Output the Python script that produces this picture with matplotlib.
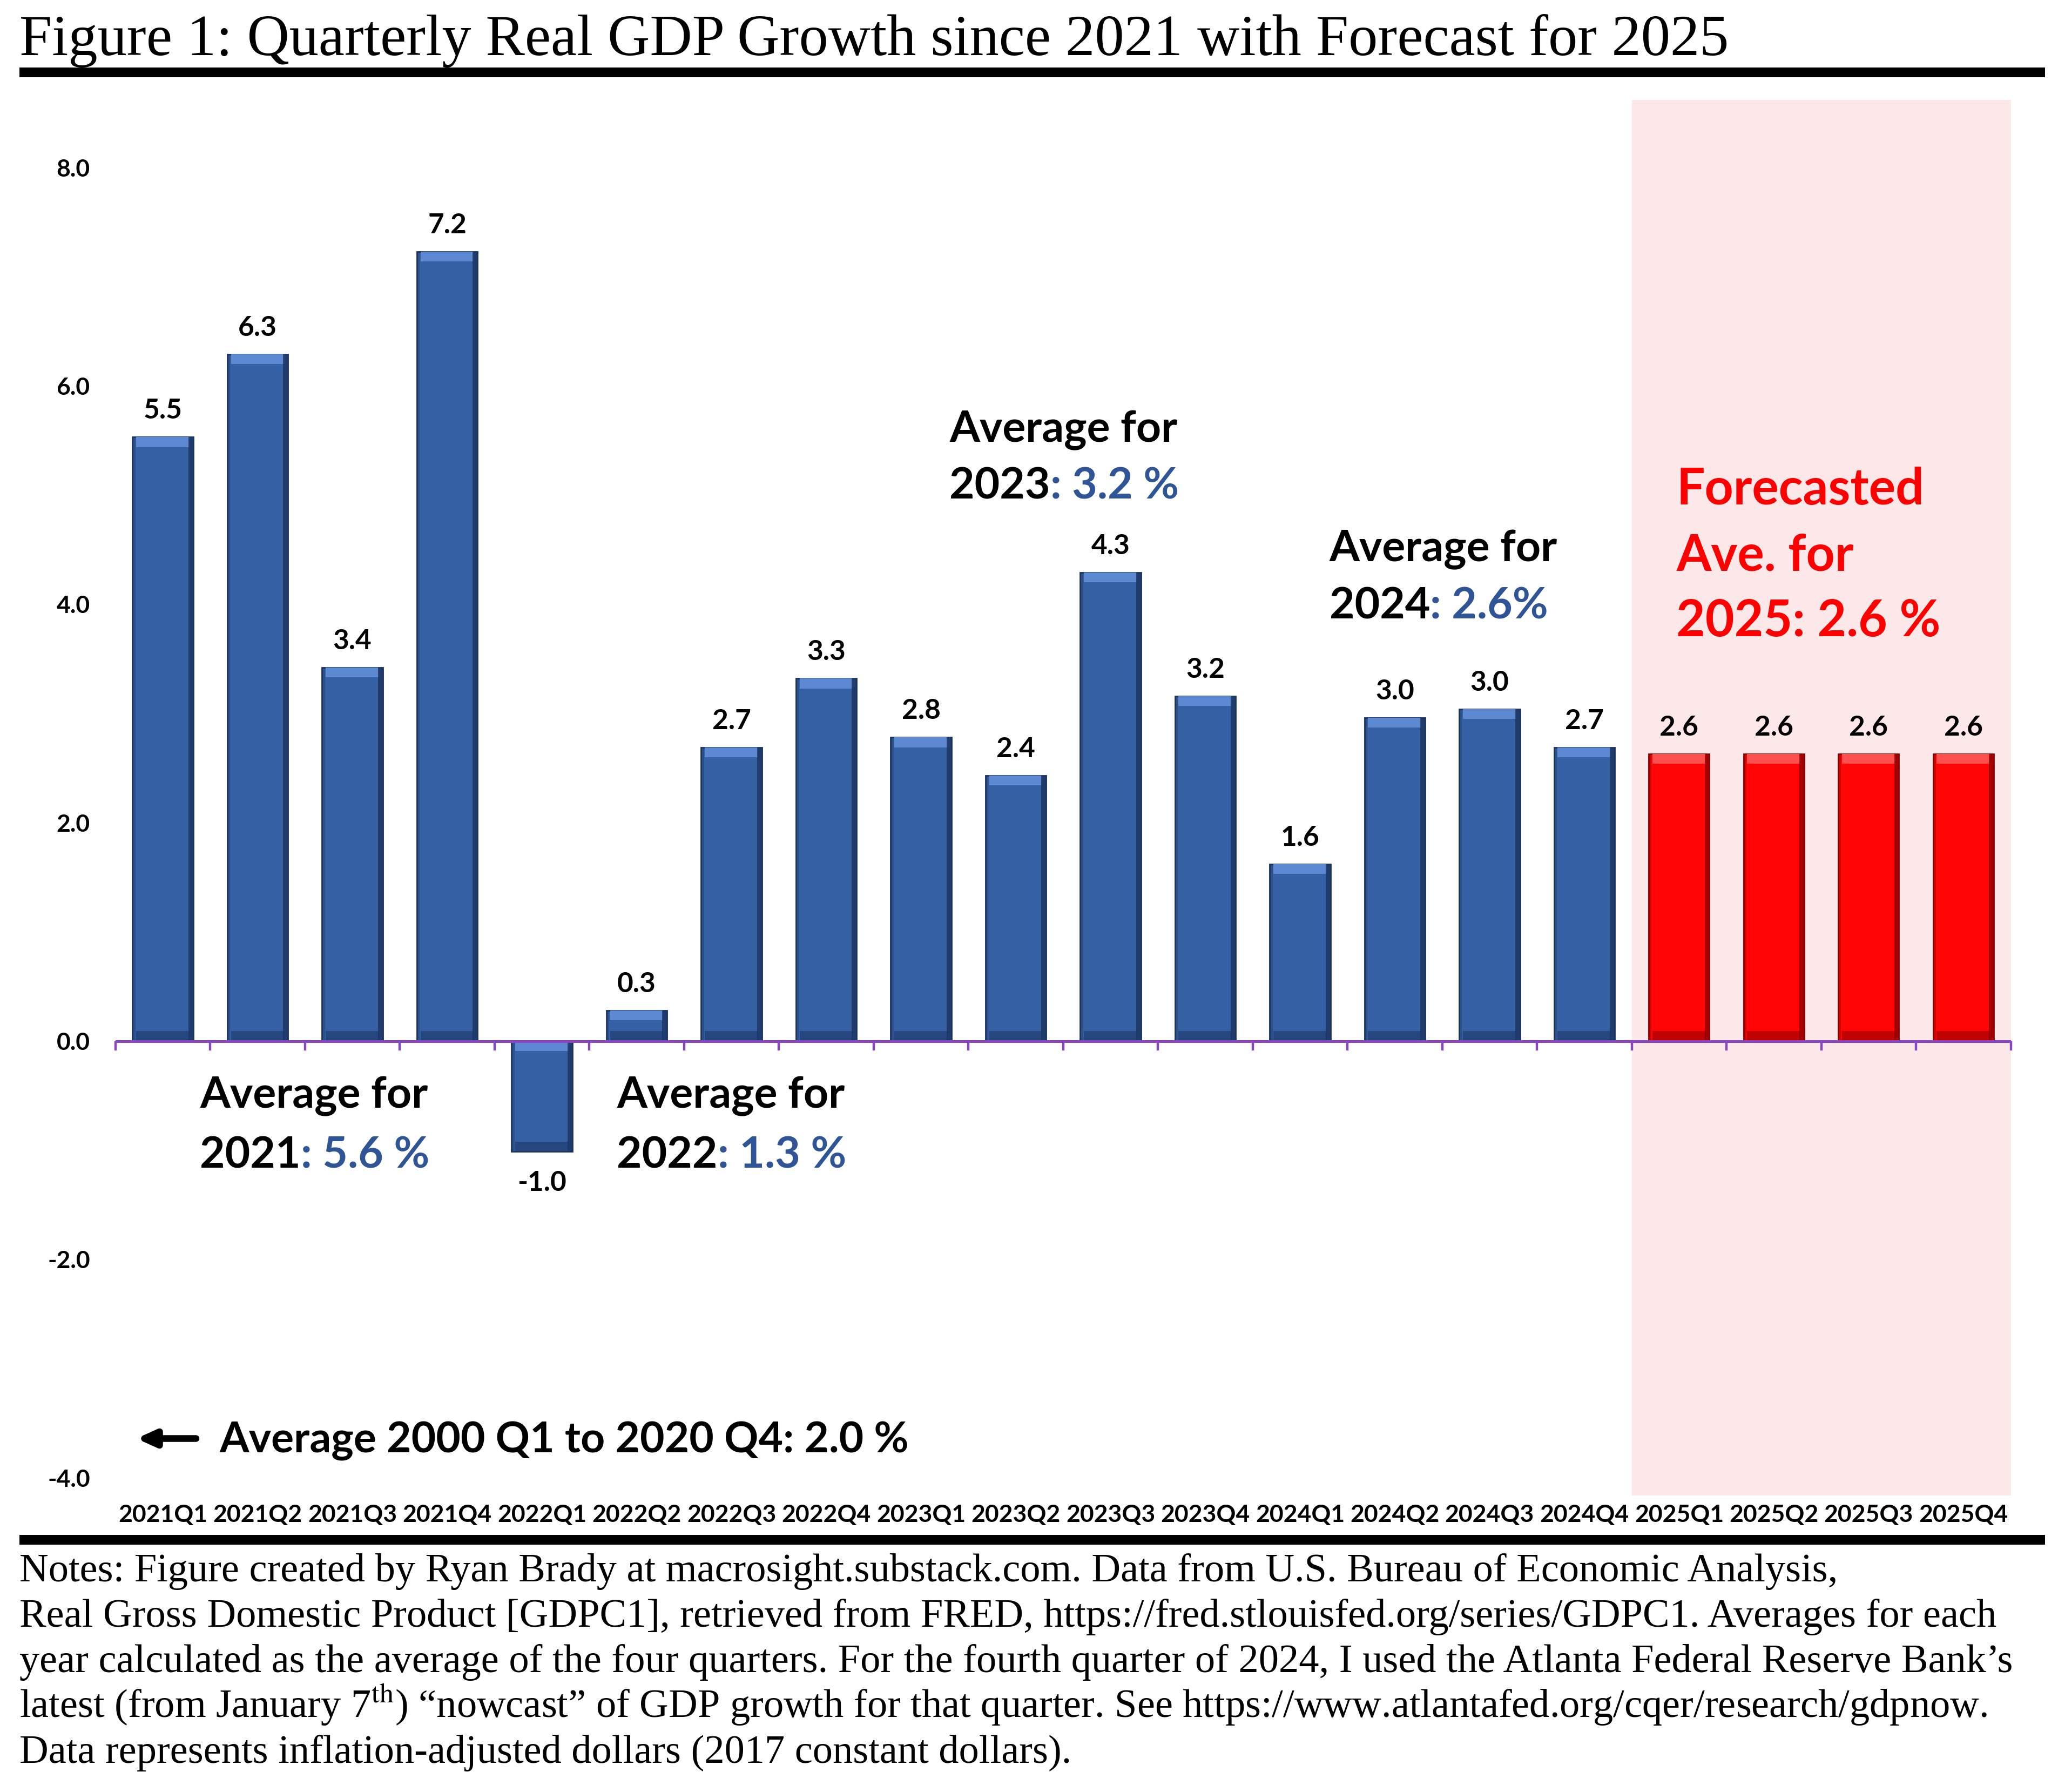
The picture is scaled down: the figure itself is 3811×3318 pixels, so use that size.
import matplotlib.pyplot as plt
from matplotlib.lines import Line2D
import numpy as np

# ---- data ----
quarters = ['2021Q1', '2021Q2', '2021Q3', '2021Q4',
            '2022Q1', '2022Q2', '2022Q3', '2022Q4',
            '2023Q1', '2023Q2', '2023Q3', '2023Q4',
            '2024Q1', '2024Q2', '2024Q3', '2024Q4',
            '2025Q1', '2025Q2', '2025Q3', '2025Q4']
growth = [5.53, 6.29, 3.42, 7.23,
          -1.01, 0.28, 2.69, 3.32,
          2.78, 2.43, 4.29, 3.16,
          1.62, 2.96, 3.04, 2.69,
          2.63, 2.63, 2.63, 2.63]
n_forecast = 4

avg_years = ['2021', '2022', '2023', '2024']
avg_values = [': 5.6 %', ': 1.3 %', ': 3.2 %', ': 2.6%']
forecast_lines = ['Forecasted', 'Ave. for', '2025: 2.6 %']
longrun_text = 'Average 2000 Q1 to 2020 Q4: 2.0 %'
yticks = [-4, -2, 0, 2, 4, 6, 8]

title = 'Figure 1: Quarterly Real GDP Growth since 2021 with Forecast for 2025'
notes = [
    'Notes: Figure created by Ryan Brady at macrosight.substack.com. Data from U.S. Bureau of Economic Analysis,',
    'Real Gross Domestic Product [GDPC1], retrieved from FRED, https://fred.stlouisfed.org/series/GDPC1. Averages for each',
    'year calculated as the average of the four quarters. For the fourth quarter of 2024, I used the Atlanta Federal Reserve Bank\u2019s',
    'latest (from January 7$^{\\rm th}$) \u201cnowcast\u201d of GDP growth for that quarter. See https://www.atlantafed.org/cqer/research/gdpnow.',
    'Data represents inflation-adjusted dollars (2017 constant dollars).',
]

plt.rcParams['font.family'] = ['Lato', 'DejaVu Sans']
plt.rcParams['mathtext.fontset'] = 'stix'

BLUE = '#3560a4'
BLUE_LT = '#5d89d2'
BLUE_DK = '#1b3360'
RED = '#ff0505'
RED_LT = '#ff5050'
RED_DK = '#8c0000'
TXT_BLUE = '#2f5597'
AXIS = '#8a45c4'

# layout grid in the 1568x1365 reference view
W, H = 1568, 1365


def fx(px):
    return px / W


def fy(py):
    return 1 - py / H


fig = plt.figure(figsize=(3811 / 200, 3318 / 200), dpi=200)
ax = fig.add_axes([fx(88), fy(1139), fx(1532) - fx(88), fy(76) - fy(1139)])

n = len(quarters)
x = np.arange(n)
vals = np.array(growth)
n_act = n - n_forecast
face = [BLUE] * n_act + [RED] * n_forecast
lite = [BLUE_LT] * n_act + [RED_LT] * n_forecast
dark = [BLUE_DK] * n_act + [RED_DK] * n_forecast

ax.set_xlim(-0.5, n - 0.5)
ax.set_ylim(-4.16, 8.62)

# forecast shading
ax.axvspan(n_act - 0.5, n - 0.5, color='#fde8e9', lw=0, zorder=0)

# bars with a rough bevel look
bw = 0.64
strip = 0.09
top = np.maximum(vals, 0)
low = np.minimum(vals, 0)
ax.bar(x, vals, width=bw, color=face, edgecolor=dark, linewidth=1.0, zorder=2)
ax.bar(x, strip, bottom=top - strip, width=bw * 0.88, color=lite, zorder=3)
ax.bar(x, strip, bottom=low, width=bw * 0.88, color=dark, alpha=0.55, zorder=3)
ax.bar(x + bw / 2 - 0.025, vals, width=0.05, color=dark, alpha=0.8, zorder=3)
ax.bar(x - bw / 2 + 0.015, vals, width=0.03, color=dark, alpha=0.35, zorder=3)

for xi, v in zip(x, vals):
    off = 0.24 if v >= 0 else -0.29
    ax.text(xi, v + off, f'{v:.1f}', ha='center', va='center',
            fontsize=18.5, fontweight='bold', zorder=5)

# zero line with category ticks
ax.axhline(0, color=AXIS, lw=1.8, zorder=4)
ax.vlines(np.arange(n + 1) - 0.5, -0.085, 0, color=AXIS, lw=1.6,
          zorder=4, clip_on=False)

for s in ax.spines.values():
    s.set_visible(False)
ax.set_yticks(yticks)
ax.set_yticklabels([f'{t:.1f}' for t in yticks])
ax.set_xticks(x)
ax.set_xticklabels(quarters)
ax.tick_params(axis='y', length=0, pad=17, labelsize=16)
ax.tick_params(axis='x', length=0, pad=6, labelsize=16)
for lab in ax.get_xticklabels() + ax.get_yticklabels():
    lab.set_fontweight('bold')

# yearly average annotations
avg_pos = [(0.39, -0.505, -1.046), (4.79, -0.505, -1.046),
           (8.30, 5.59, 5.08), (12.31, 4.50, 3.98)]
for (ax_x, y1, y2), yr, val in zip(avg_pos, avg_years, avg_values):
    ax.text(ax_x, y1, 'Average for', ha='left', va='center',
            fontsize=29, fontweight='bold')
    t = ax.text(ax_x, y2, yr, ha='left', va='center',
                fontsize=29, fontweight='bold')
    ax.annotate(val, xy=(1, 0), xycoords=t, ha='left', va='bottom',
                fontsize=29, fontweight='bold', color=TXT_BLUE)

for txt, yy in zip(forecast_lines, [5.05, 4.44, 3.84]):
    ax.text(15.97, yy, txt, ha='left', va='center', fontsize=33.4,
            fontweight='bold', color='red')

ax.annotate('', xy=(-0.28, -3.64), xytext=(0.35, -3.64),
            arrowprops=dict(arrowstyle='-|>,head_length=1.0,head_width=0.45',
                            mutation_scale=10, shrinkA=0, shrinkB=0,
                            color='black', lw=4.5))
ax.text(0.6, -3.66, longrun_text, ha='left', va='center',
        fontsize=28.3, fontweight='bold')

# title, rules and notes
fig.text(fx(15), fy(42), title, ha='left', va='baseline', fontsize=39,
         family='Liberation Serif')
for yy in (55, 1173):
    fig.add_artist(Line2D([fx(15), fx(1558)], [fy(yy), fy(yy)],
                          color='black', lw=6.5, solid_capstyle='butt'))

for i, line in enumerate(notes):
    fig.text(fx(15), fy(1204.5 + i * 34.6), line, ha='left', va='baseline',
             fontsize=26.8, family='Liberation Serif')

fig.savefig('out.png', dpi=200, facecolor='white')
